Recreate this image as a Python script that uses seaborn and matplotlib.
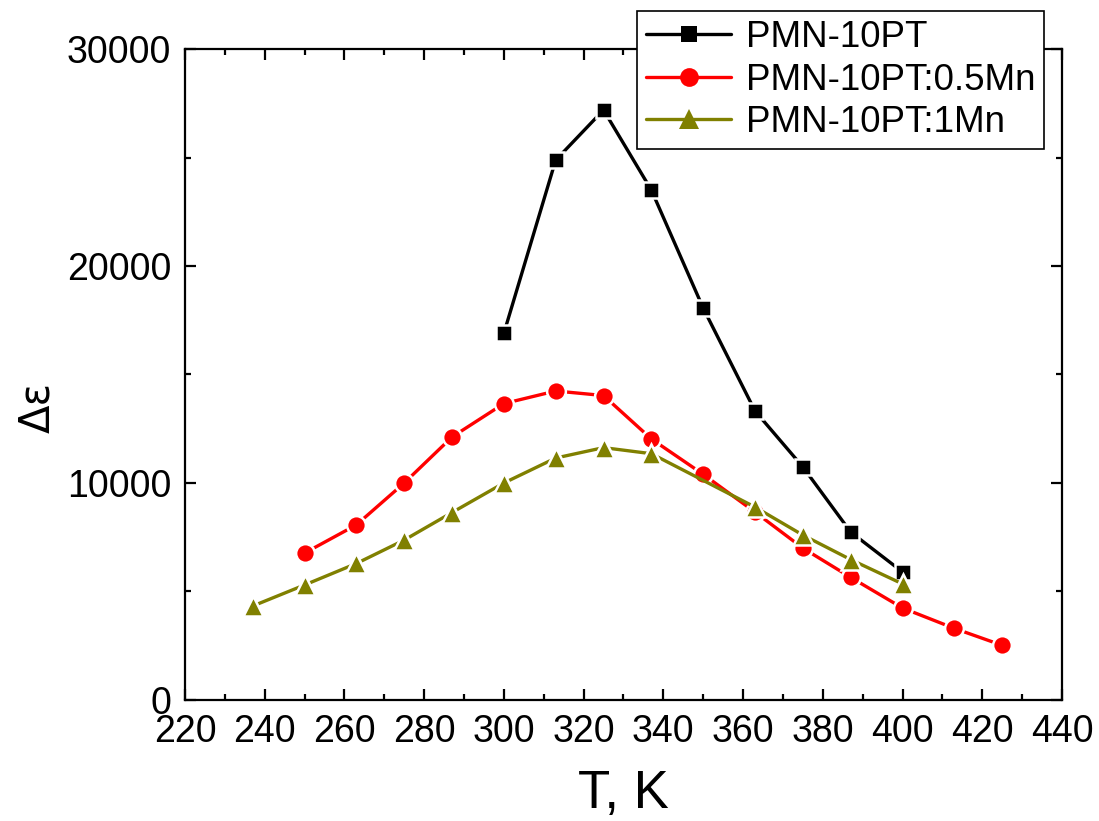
import matplotlib
matplotlib.use("Agg")
import matplotlib.pyplot as plt
from matplotlib.ticker import MultipleLocator
import seaborn as sns
import pandas as pd

# Temperature (K) and dielectric increment for each composition
t_pure = [300, 313, 325, 337, 350, 363, 375, 387, 400]
de_pure = [16900, 24880, 27190, 23500, 18060, 13320, 10740, 7740, 5900]

t_05mn = [250, 263, 275, 287, 300, 313, 325, 337, 350, 363, 375, 387, 400, 413, 425]
de_05mn = [6770, 8070, 10000, 12120, 13660, 14240, 14030, 12030, 10400, 8660, 7000, 5650, 4240, 3300, 2520]

t_1mn = [237, 250, 263, 275, 287, 300, 313, 325, 337, 363, 375, 387, 400]
de_1mn = [4330, 5300, 6290, 7370, 8640, 10000, 11150, 11630, 11350, 8890, 7600, 6470, 5350]

labels = ["PMN-10PT", "PMN-10PT:0.5Mn", "PMN-10PT:1Mn"]

sns.set_style("ticks")
plt.rcParams["font.family"] = ["Liberation Sans", "DejaVu Sans"]
plt.rcParams["text.color"] = "black"
plt.rcParams["axes.labelcolor"] = "black"
plt.rcParams["xtick.color"] = "black"
plt.rcParams["ytick.color"] = "black"

fig = plt.figure(figsize=(10.99, 8.21), dpi=100)
ax = fig.add_axes([0.1683, 0.1474, 0.7980, 0.7929])

series = [
    (t_pure, de_pure, labels[0], "black", "s", 11),
    (t_05mn, de_05mn, labels[1], "#ff0000", "o", 13.5),
    (t_1mn, de_1mn, labels[2], "#808000", "^", 14),
]
for t, de, lab, col, mk, ms in series:
    df = pd.DataFrame({"T": t, "de": de})
    sns.lineplot(data=df, x="T", y="de", ax=ax, color=col, marker=mk,
                 markersize=ms, markeredgecolor="white", markeredgewidth=1.8,
                 linewidth=2.4, label=lab, sort=False)

ax.set_xlim(220, 440)
ax.set_ylim(0, 30000)
ax.xaxis.set_major_locator(MultipleLocator(20))
ax.xaxis.set_minor_locator(MultipleLocator(10))
ax.yaxis.set_major_locator(MultipleLocator(10000))
ax.yaxis.set_minor_locator(MultipleLocator(5000))

for s in ax.spines.values():
    s.set_visible(True)
    s.set_linewidth(1.6)
    s.set_color("black")

ax.tick_params(which="both", direction="in", top=True, right=True,
               width=1.6, color="black", labelcolor="black")
ax.tick_params(which="major", length=8, labelsize=27, pad=10)
ax.tick_params(which="minor", length=4.5)

ax.set_xlabel("T, K", fontsize=38, labelpad=14)
ax.set_ylabel("Δε", fontsize=30, family=["DejaVu Sans"])
ax.yaxis.set_label_coords(-0.145, 0.45)

leg = ax.legend(loc="upper left", bbox_to_anchor=(637 / 1099, 1 - 11 / 821),
                bbox_transform=fig.transFigure, fontsize=26.5, frameon=True,
                fancybox=False, edgecolor="black", framealpha=1,
                handlelength=2.3, handletextpad=0.4, borderpad=0.25,
                labelspacing=0.2, borderaxespad=0)
leg.get_frame().set_linewidth(1.2)
for h in leg.legend_handles:
    h.set_markeredgewidth(0.0)

fig.savefig("out.png", dpi=100)
